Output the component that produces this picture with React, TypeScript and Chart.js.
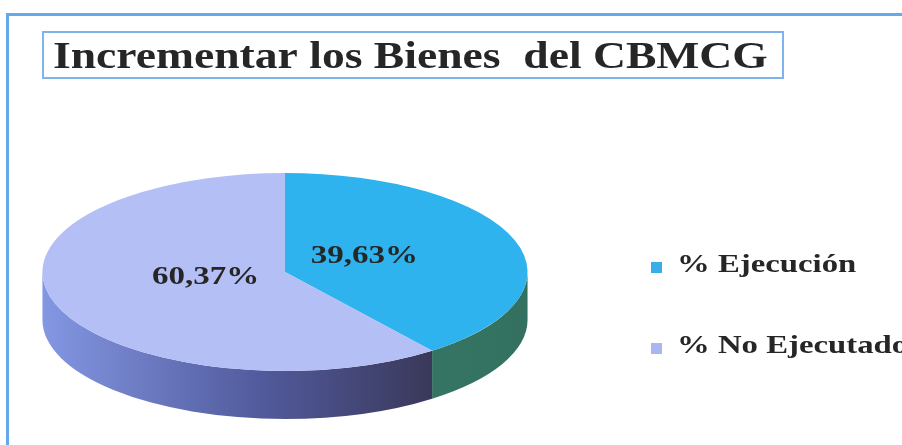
import React, { useEffect, useRef } from 'react';
import { Chart, registerables } from 'chart.js';

Chart.register(...registerables);

// ---- data ----
const TITLE = 'Incrementar los Bienes  del CBMCG';
const LABELS = ['% Ejecución', '% No Ejecutado'];
const VALUES = [39.63, 60.37];
const TOP_COLORS = ['#2eb3ee', '#b4bff6'];
const LEGEND_COLORS = ['#38ade6', '#a9b6f0'];
const SIDE_STOPS: [number, string][][] = [
  [[0, '#3f8878'], [1, '#33705f']],
  [[0, '#8497e3'], [0.45, '#515a9c'], [0.8, '#3a395b'], [1, '#3a395b']],
];

// ---- layout / style constants ----
const W = 902;
const H = 445;
const ASPECT = 2.45; // horizontal stretch of the pie's top face
const DEPTH = 48; // thickness of the 3D side
const SERIF = '"Liberation Serif", "Times New Roman", serif';
const TEXT_COLOR = '#262626';
const LABEL_R = 0.345;
const LABEL_DY = -5;
const LEGEND_BOX_X = 651;
const LEGEND_TEXT_X = 677;
const LEGEND_BASE_Y = 272;
const LEGEND_STEP = 81;

function fmt(v: number) {
  return v.toFixed(2).replace('.', ',') + '%';
}

function drawStretchedText(
  ctx: CanvasRenderingContext2D,
  text: string,
  x: number,
  y: number,
  font: string,
  sx: number,
  color: string,
  align: CanvasTextAlign = 'left',
  baseline: CanvasTextBaseline = 'alphabetic'
) {
  ctx.save();
  ctx.translate(x, y);
  ctx.scale(sx, 1);
  ctx.font = font;
  ctx.fillStyle = color;
  ctx.textAlign = align;
  ctx.textBaseline = baseline;
  ctx.fillText(text, 0, 0);
  ctx.restore();
}

const pie3d = {
  id: 'pie3d',
  beforeDraw(chart: any) {
    const ctx: CanvasRenderingContext2D = chart.ctx;
    ctx.save();
    ctx.fillStyle = '#ffffff';
    ctx.fillRect(0, 0, chart.width, chart.height);
    // outer frame (left + top visible)
    ctx.strokeStyle = '#66a9ea';
    ctx.lineWidth = 3;
    ctx.beginPath();
    ctx.moveTo(7.5, chart.height + 10);
    ctx.lineTo(7.5, 14.5);
    ctx.lineTo(chart.width + 10, 14.5);
    ctx.stroke();
    // title box
    ctx.strokeStyle = '#80b3ec';
    ctx.lineWidth = 2;
    ctx.strokeRect(43, 32, 740, 46);
    ctx.restore();
    drawStretchedText(ctx, TITLE, 53, 68, 'bold 38px ' + SERIF, 1.2, TEXT_COLOR);
  },
  beforeDatasetsDraw(chart: any) {
    const ctx: CanvasRenderingContext2D = chart.ctx;
    const meta = chart.getDatasetMeta(0);
    meta.data.forEach((arc: any, i: number) => {
      const { x, y, startAngle, endAngle, outerRadius } = arc.getProps(
        ['x', 'y', 'startAngle', 'endAngle', 'outerRadius'],
        true
      );
      const s = Math.max(startAngle, 0);
      const e = Math.min(endAngle, Math.PI);
      if (e <= s) return;
      const rx = outerRadius * ASPECT;
      const ry = outerRadius;
      const g = ctx.createLinearGradient(x - rx, 0, x + rx, 0);
      SIDE_STOPS[i].forEach(([o, c]) => g.addColorStop(o, c));
      ctx.save();
      ctx.beginPath();
      ctx.ellipse(x, y, rx, ry, 0, s, e, false);
      ctx.ellipse(x, y + DEPTH, rx, ry, 0, e, s, true);
      ctx.closePath();
      ctx.fillStyle = g;
      ctx.fill();
      ctx.restore();
    });
    const c = meta.data[0];
    ctx.save();
    ctx.translate(c.x, c.y);
    ctx.scale(ASPECT, 1);
    ctx.translate(-c.x, -c.y);
  },
  afterDatasetsDraw(chart: any) {
    const ctx: CanvasRenderingContext2D = chart.ctx;
    ctx.restore();
    const meta = chart.getDatasetMeta(0);
    const values = chart.data.datasets[0].data as number[];
    meta.data.forEach((arc: any, i: number) => {
      const { x, y, startAngle, endAngle, outerRadius } = arc.getProps(
        ['x', 'y', 'startAngle', 'endAngle', 'outerRadius'],
        true
      );
      const mid = (startAngle + endAngle) / 2;
      const r = outerRadius * LABEL_R;
      const lx = x + Math.cos(mid) * r * ASPECT;
      const ly = y + Math.sin(mid) * r + LABEL_DY;
      drawStretchedText(ctx, fmt(values[i]), lx, ly, 'bold 25px ' + SERIF, 1.32, TEXT_COLOR, 'center', 'middle');
    });
  },
  afterDraw(chart: any) {
    const ctx: CanvasRenderingContext2D = chart.ctx;
    const labels = chart.data.labels as string[];
    labels.forEach((lab, i) => {
      const by = LEGEND_BASE_Y + i * LEGEND_STEP;
      ctx.save();
      ctx.fillStyle = LEGEND_COLORS[i];
      ctx.fillRect(LEGEND_BOX_X, by - 10, 11, 11);
      ctx.restore();
      drawStretchedText(ctx, lab, LEGEND_TEXT_X, by, 'bold 26px ' + SERIF, 1.26, TEXT_COLOR);
    });
  },
};

export default function App() {
  const ref = useRef<HTMLCanvasElement | null>(null);
  useEffect(() => {
    if (!ref.current) return;
    const chart = new Chart(ref.current, {
      type: 'pie',
      data: {
        labels: LABELS,
        datasets: [
          {
            data: VALUES,
            backgroundColor: TOP_COLORS,
            borderWidth: 0,
            clip: false as any,
          },
        ],
      },
      options: {
        responsive: false,
        maintainAspectRatio: false,
        animation: false,
        events: [],
        layout: { padding: { left: 42, right: 374, top: 173, bottom: 74 } },
        plugins: {
          legend: { display: false },
          tooltip: { enabled: false },
          title: { display: false },
        },
      },
      plugins: [pie3d as any],
    });
    return () => chart.destroy();
  }, []);
  return (
    <div
      style={{
        position: 'fixed',
        left: 0,
        top: 0,
        width: W,
        height: H,
        overflow: 'hidden',
        background: '#fff',
      }}
    >
      <canvas ref={ref} width={W} height={H} style={{ display: 'block', width: W, height: H }} />
    </div>
  );
}
